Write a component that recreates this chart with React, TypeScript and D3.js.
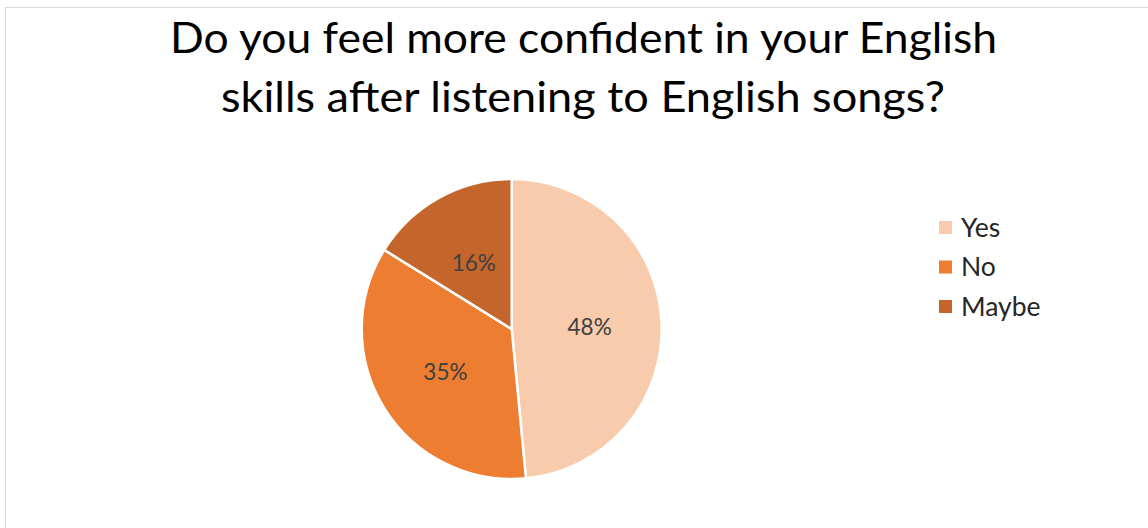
import React from "react";
import * as d3 from "d3";

const categories = ["Yes", "No", "Maybe"];
const values = [48, 35, 16];
const colors = ["#F8CBAD", "#ED7D31", "#C4662B"];
const titleLines = [
  "Do you feel more confident in your English",
  "skills after listening to English songs?",
];

const W = 1148;
const H = 528;
const FONT = "Lato, 'Open Sans', sans-serif";

export default function App() {
  const cx = 511.7;
  const cy = 329;
  const R = 150;
  const pie = d3.pie<number>().sort(null).value((d) => d);
  const arcs = pie(values);
  const arc = d3.arc<d3.PieArcDatum<number>>().innerRadius(0).outerRadius(R);
  const labelArc = d3.arc<d3.PieArcDatum<number>>().innerRadius(0).outerRadius(R * 1.04);

  const titleX = [170, 221];
  const titleLen = [827, 724];
  const titleY = [53, 112];

  const legendY = d3.scalePoint<string>().domain(categories).range([227.5, 306.5]);

  return (
    <svg
      width={W}
      height={H}
      style={{ position: "absolute", left: 0, top: 0, background: "#fff" }}
    >
      <rect x={5.5} y={7.5} width={1300} height={700} fill="#fff" stroke="#d9d9d9" strokeWidth={1} />
      {titleLines.map((t, i) => (
        <text
          key={i}
          x={titleX[i]}
          y={titleY[i]}
          fontFamily={FONT}
          fontSize={42}
          fill="#000"
          textLength={titleLen[i]}
          lengthAdjust="spacingAndGlyphs"
        >
          {t}
        </text>
      ))}
      <g transform={`translate(${cx},${cy})`}>
        {arcs.map((a, i) => (
          <path key={i} d={arc(a) || ""} fill={colors[i]} stroke="#fff" strokeWidth={2.5} />
        ))}
        {arcs.map((a, i) => {
          const [x, y] = labelArc.centroid(a);
          return (
            <text
              key={"l" + i}
              x={x}
              y={y + 1.5}
              textAnchor="middle"
              dominantBaseline="central"
              fontFamily={FONT}
              fontSize={22.5}
              fill="#404040"
            >
              {values[i]}%
            </text>
          );
        })}
      </g>
      {categories.map((c, i) => {
        const y = legendY(c) as number;
        return (
          <g key={c}>
            <rect x={939} y={y - 6.5} width={13} height={13} fill={colors[i]} />
            <text x={961} y={y + 9} fontFamily={FONT} fontSize={26.5} fill="#262626">
              {c}
            </text>
          </g>
        );
      })}
    </svg>
  );
}
